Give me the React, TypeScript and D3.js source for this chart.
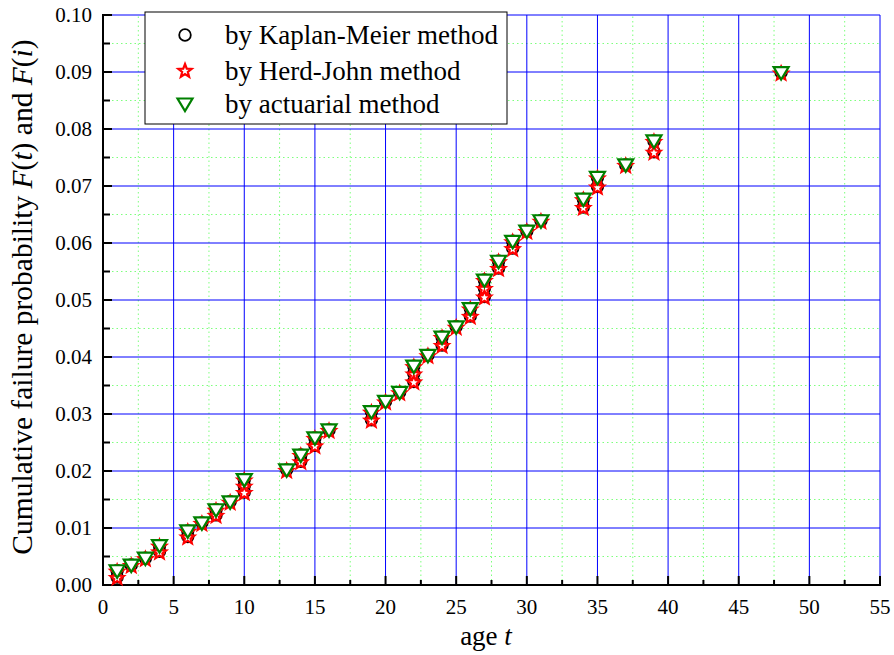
import React from 'react';
import * as d3 from 'd3';

// actuarial method, one value per age
const actAges = [1, 2, 3, 4, 6, 7, 8, 9, 10, 13, 14, 15, 16, 19, 20, 21, 22, 23, 24, 25, 26, 27, 28, 29, 30, 31, 34, 35, 37, 39, 48];
const actValues = [0.0025, 0.0035, 0.0047, 0.0069, 0.0095, 0.0109, 0.0132, 0.0146, 0.0185, 0.0202, 0.0228, 0.0258, 0.0272, 0.0304, 0.0322, 0.0338, 0.0384, 0.0403, 0.0435, 0.0453, 0.0485, 0.0535, 0.0568, 0.0603, 0.0621, 0.0639, 0.0677, 0.0715, 0.0737, 0.0779, 0.0899];

// Herd-John, several failures at the same age
const hjAges = [1, 1, 2, 3, 4, 4, 6, 6, 7, 8, 8, 9, 10, 10, 10, 13, 14, 14, 15, 15, 16, 19, 19, 20, 21, 22, 22, 22, 23, 24, 24, 25, 26, 26, 27, 27, 27, 28, 28, 29, 29, 30, 31, 34, 34, 35, 35, 37, 39, 39, 48];
const hjValues = [0.0023, 0.0012, 0.0033, 0.0045, 0.0067, 0.0057, 0.0093, 0.0083, 0.0107, 0.0130, 0.0121, 0.0144, 0.0183, 0.0172, 0.0161, 0.0200, 0.0226, 0.0215, 0.0256, 0.0243, 0.0270, 0.0302, 0.0288, 0.0320, 0.0336, 0.0382, 0.0369, 0.0355, 0.0401, 0.0433, 0.0419, 0.0451, 0.0483, 0.0470, 0.0533, 0.0519, 0.0504, 0.0566, 0.0554, 0.0601, 0.0589, 0.0619, 0.0637, 0.0675, 0.0661, 0.0713, 0.0697, 0.0735, 0.0777, 0.0758, 0.0897];

// Kaplan-Meier
const kmAges = hjAges;
const kmValues = [0.0025, 0.0014, 0.0035, 0.0047, 0.0069, 0.0059, 0.0095, 0.0085, 0.0109, 0.0132, 0.0123, 0.0146, 0.0185, 0.0174, 0.0163, 0.0202, 0.0228, 0.0217, 0.0258, 0.0245, 0.0272, 0.0304, 0.0290, 0.0322, 0.0338, 0.0384, 0.0371, 0.0357, 0.0403, 0.0435, 0.0421, 0.0453, 0.0485, 0.0472, 0.0535, 0.0521, 0.0506, 0.0568, 0.0556, 0.0603, 0.0591, 0.0621, 0.0639, 0.0677, 0.0663, 0.0715, 0.0699, 0.0737, 0.0779, 0.0760, 0.0899];

const xMajor = [0, 5, 10, 15, 20, 25, 30, 35, 40, 45, 50, 55];
const yMajor = [0, 0.01, 0.02, 0.03, 0.04, 0.05, 0.06, 0.07, 0.08, 0.09, 0.1];
const legendLabels = ['by Kaplan-Meier method', 'by Herd-John method', 'by actuarial method'];

const x = d3.scaleLinear().domain([0, 55]).range([103, 880]);
const y = d3.scaleLinear().domain([0, 0.1]).range([585, 15]);

const xMinor = xMajor.slice(0, -1).map(v => v + 2.5);
const yMinor = yMajor.slice(0, -1).map(v => v + 0.005);

const starPath = (() => {
  const pts: [number, number][] = [];
  for (let i = 0; i < 10; i++) {
    const r = i % 2 === 0 ? 7 : 3;
    const a = -Math.PI / 2 + (i * Math.PI) / 5;
    pts.push([r * Math.cos(a), r * Math.sin(a)]);
  }
  return d3.line()(pts) + 'Z';
})();
const triPath = 'M-7.5,-5.5L7.5,-5.5L0,7Z';

const Circle = ({ cx, cy }: { cx: number; cy: number }) => (
  <circle cx={cx} cy={cy} r={5.8} fill="white" stroke="black" strokeWidth={1.8} />
);
const Star = ({ cx, cy }: { cx: number; cy: number }) => (
  <path d={starPath} transform={`translate(${cx},${cy})`} fill="white" stroke="#ff0000" strokeWidth={2.2} />
);
const Tri = ({ cx, cy }: { cx: number; cy: number }) => (
  <path d={triPath} transform={`translate(${cx},${cy})`} fill="white" stroke="#008000" strokeWidth={2.2} />
);

const FONT = 'Liberation Serif';

export default function App() {
  return (
    <div style={{ fontFamily: FONT }}>
      <svg width={894} height={655} fontFamily={FONT} style={{ position: 'absolute', left: 0, top: 0, background: 'white', fontFamily: FONT }}>
        {/* minor grid */}
        <g stroke="#7dff7d" strokeWidth={1} strokeDasharray="1.5,3">
          {xMinor.map(v => <line key={'xm' + v} x1={x(v)} x2={x(v)} y1={y(0)} y2={y(0.1)} />)}
          {yMinor.map(v => <line key={'ym' + v} x1={x(0)} x2={x(55)} y1={y(v)} y2={y(v)} />)}
        </g>
        {/* major grid */}
        <g stroke="#0000ff" strokeWidth={1}>
          {xMajor.slice(1).map(v => <line key={'xg' + v} x1={x(v)} x2={x(v)} y1={y(0)} y2={y(0.1)} />)}
          {yMajor.slice(1).map(v => <line key={'yg' + v} x1={x(0)} x2={x(55)} y1={y(v)} y2={y(v)} />)}
        </g>
        {/* axes */}
        <g stroke="black" strokeWidth={2}>
          <line x1={x(0)} x2={x(0)} y1={y(0) + 1} y2={y(0.1) - 1} />
          <line x1={x(0) - 1} x2={x(55) + 1} y1={y(0)} y2={y(0)} />
          {xMajor.map(v => <line key={'xt' + v} x1={x(v)} x2={x(v)} y1={y(0)} y2={y(0) - 9} />)}
          {xMinor.map(v => <line key={'xmt' + v} x1={x(v)} x2={x(v)} y1={y(0)} y2={y(0) - 5} />)}
          {yMajor.map(v => <line key={'yt' + v} x1={x(0)} x2={x(0) + 9} y1={y(v)} y2={y(v)} />)}
          {yMinor.map(v => <line key={'ymt' + v} x1={x(0)} x2={x(0) + 7} y1={y(v)} y2={y(v)} />)}
        </g>
        {xMajor.map(v => (
          <text key={'xl' + v} x={x(v)} y={614} fontSize={21} textAnchor="middle" fontFamily={FONT}>{v}</text>
        ))}
        {yMajor.map(v => (
          <text key={'yl' + v} x={92} y={y(v) + 7} fontSize={21} textAnchor="end" fontFamily={FONT}>{v.toFixed(2)}</text>
        ))}
        <text x={486} y={645} fontSize={27} textAnchor="middle" fontFamily={FONT}>
          age <tspan fontStyle="italic">t</tspan>
        </text>
        <text transform={`translate(32,297) rotate(-90)`} fontSize={29.5} textAnchor="middle" fontFamily={FONT}>
          Cumulative failure probability <tspan fontStyle="italic">F</tspan>(<tspan fontStyle="italic">t</tspan>) and <tspan fontStyle="italic">F</tspan>(<tspan fontStyle="italic">i</tspan>)
        </text>
        {/* points */}
        <g>
          {kmAges.map((a, i) => <Circle key={'k' + i} cx={x(a)} cy={y(kmValues[i])} />)}
          {hjAges.map((a, i) => <Star key={'h' + i} cx={x(a)} cy={y(hjValues[i])} />)}
          {actAges.map((a, i) => <Tri key={'a' + i} cx={x(a)} cy={y(actValues[i])} />)}
        </g>
        {/* legend */}
        <rect x={145} y={12} width={362} height={112} fill="white" stroke="black" strokeWidth={1} />
        <Circle cx={185} cy={35} />
        <Star cx={185} cy={71} />
        <Tri cx={185} cy={104} />
        {legendLabels.map((s, i) => (
          <text key={s} x={225} y={[35, 71, 104][i] + 9} fontSize={27} fontFamily={FONT}>{s}</text>
        ))}
      </svg>
    </div>
  );
}
